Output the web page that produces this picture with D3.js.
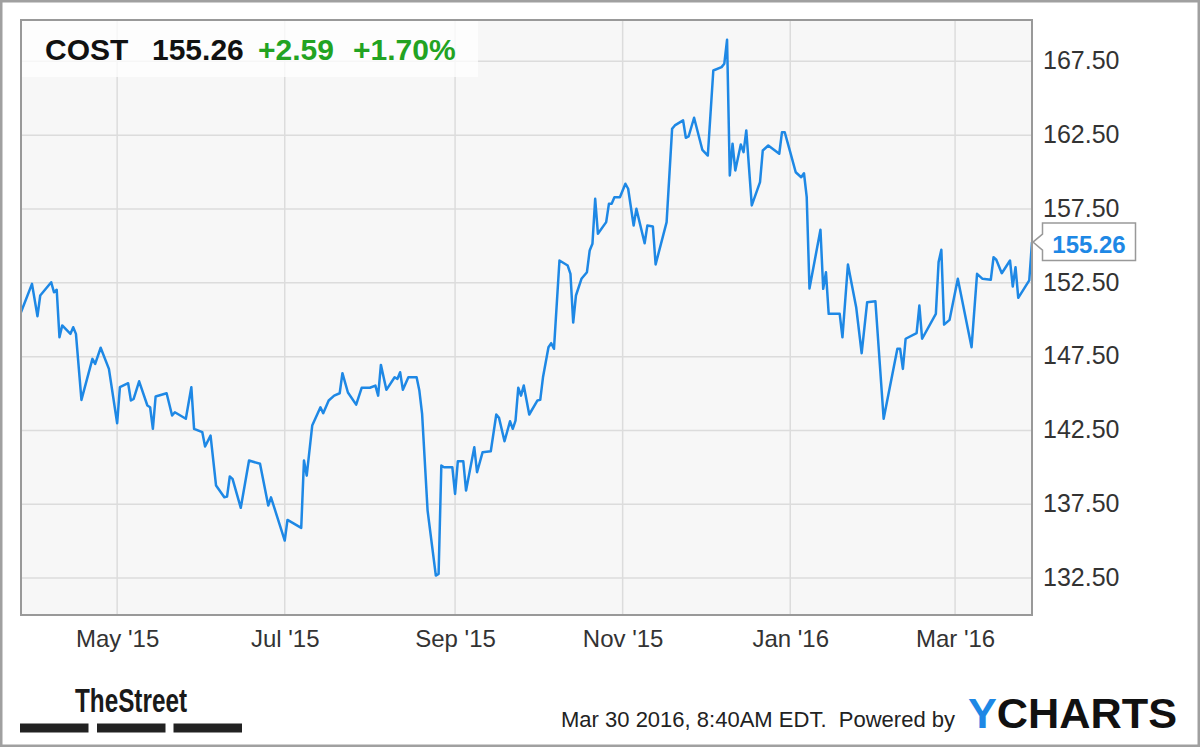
<!DOCTYPE html>
<html>
<head>
<meta charset="utf-8">
<script src="https://cdn.jsdelivr.net/npm/d3@7"></script>
<style>
  html, body { margin: 0; padding: 0; background: #fff; }
  svg { display: block; font-family: "Liberation Sans", Arial, sans-serif; }
</style>
</head>
<body>
<div id="chart"></div>
<script>
// COST daily close
const dates = [
  "2015-03-27","2015-03-31","2015-04-02","2015-04-03","2015-04-07","2015-04-08","2015-04-09","2015-04-10","2015-04-11","2015-04-14","2015-04-15","2015-04-16",
  "2015-04-18","2015-04-22","2015-04-23","2015-04-25","2015-04-28",
  "2015-05-01","2015-05-02","2015-05-05","2015-05-06","2015-05-07","2015-05-09","2015-05-12","2015-05-13","2015-05-14","2015-05-15","2015-05-19","2015-05-21","2015-05-22","2015-05-26","2015-05-28","2015-05-29",
  "2015-06-01","2015-06-02","2015-06-04","2015-06-06","2015-06-09","2015-06-10","2015-06-11","2015-06-12","2015-06-15","2015-06-18","2015-06-22","2015-06-25","2015-06-26",
  "2015-07-01","2015-07-02","2015-07-07","2015-07-08","2015-07-09","2015-07-11","2015-07-14","2015-07-15","2015-07-17","2015-07-19","2015-07-21","2015-07-22","2015-07-24","2015-07-27","2015-07-29",
  "2015-08-01","2015-08-03","2015-08-04","2015-08-05","2015-08-07","2015-08-10","2015-08-11","2015-08-12","2015-08-13","2015-08-15","2015-08-18","2015-08-19","2015-08-20","2015-08-22","2015-08-25","2015-08-26","2015-08-27","2015-08-28","2015-08-31",
  "2015-09-01","2015-09-02","2015-09-04","2015-09-05","2015-09-08","2015-09-09","2015-09-11","2015-09-14","2015-09-16","2015-09-17","2015-09-19","2015-09-21","2015-09-22","2015-09-23","2015-09-24","2015-09-25","2015-09-26","2015-09-28",
  "2015-10-01","2015-10-02","2015-10-03","2015-10-05","2015-10-06","2015-10-07","2015-10-09","2015-10-12","2015-10-13","2015-10-14","2015-10-15","2015-10-17","2015-10-19","2015-10-20","2015-10-21","2015-10-22","2015-10-23","2015-10-26","2015-10-27","2015-10-28","2015-10-29","2015-10-31",
  "2015-11-02","2015-11-03","2015-11-05","2015-11-06","2015-11-09","2015-11-10","2015-11-12","2015-11-13","2015-11-17","2015-11-19","2015-11-20","2015-11-23","2015-11-24","2015-11-25","2015-11-27","2015-11-30",
  "2015-12-02","2015-12-04","2015-12-07","2015-12-08","2015-12-09","2015-12-10","2015-12-11","2015-12-12","2015-12-14","2015-12-15","2015-12-16","2015-12-18","2015-12-21","2015-12-22","2015-12-24","2015-12-28","2015-12-29","2015-12-30",
  "2016-01-01","2016-01-03","2016-01-05","2016-01-06","2016-01-07","2016-01-08","2016-01-12","2016-01-13","2016-01-14","2016-01-15","2016-01-19","2016-01-20","2016-01-22","2016-01-25","2016-01-27","2016-01-29",
  "2016-02-01","2016-02-04","2016-02-09","2016-02-10","2016-02-11","2016-02-12","2016-02-16","2016-02-17","2016-02-18","2016-02-23","2016-02-24","2016-02-25","2016-02-26","2016-02-28",
  "2016-03-02","2016-03-07","2016-03-09","2016-03-11","2016-03-14","2016-03-15","2016-03-16","2016-03-18","2016-03-21","2016-03-22","2016-03-23","2016-03-24","2016-03-28","2016-03-29"
];
const prices = [
  150.51,152.43,150.24,151.64,152.54,151.86,152.03,148.81,149.61,149.04,149.49,149.04,
  144.57,147.35,147.01,148.10,146.67,
  142.99,145.43,145.70,144.53,144.64,145.83,144.19,144.07,142.61,144.80,145.02,143.51,143.73,143.29,145.43,142.61,
  142.38,141.41,142.15,138.77,137.97,138.02,139.38,139.22,137.26,140.46,140.24,137.41,137.97,
  135.04,136.44,135.90,140.46,139.44,142.83,144.07,143.67,144.53,144.86,145.02,146.38,145.07,144.25,145.39,
  145.39,145.54,144.86,146.94,145.25,146.10,145.99,146.44,145.25,146.10,146.10,145.20,143.62,137.07,132.67,132.78,140.12,140.01,140.01,
  138.20,140.41,140.41,138.43,141.36,139.67,141.02,141.09,143.58,143.35,141.77,143.12,142.61,143.17,145.39,144.86,145.54,143.58,
  144.53,144.57,146.10,148.14,148.41,148.03,154.01,153.67,153.11,149.81,151.64,152.77,153.22,154.69,155.14,158.19,155.82,156.61,157.85,157.85,158.30,158.30,
  159.21,158.87,156.38,157.51,155.18,156.38,156.31,153.74,156.61,162.93,163.16,163.50,162.32,162.41,163.68,161.51,
  161.12,166.88,167.11,167.34,168.96,159.77,161.92,160.11,161.87,161.35,162.82,157.74,159.32,161.46,161.80,161.24,162.70,162.70,
  161.35,159.99,159.65,159.92,158.30,152.11,156.09,152.09,153.22,150.40,150.40,148.81,153.74,150.85,147.73,151.19,
  151.25,143.29,148.03,148.03,146.67,148.71,149.09,150.96,148.71,150.40,153.90,154.74,149.67,149.99,
  152.77,148.14,153.11,152.77,152.70,154.23,154.06,153.15,154.01,152.25,153.56,151.48,152.66,155.26
];

const yTicks = [132.5, 137.5, 142.5, 147.5, 152.5, 157.5, 162.5, 167.5];
const xTicks = ["2015-05-01", "2015-07-01", "2015-09-01", "2015-11-01", "2016-01-01", "2016-03-01"];
const xDomain = ["2015-03-27", "2016-03-29"];
const yDomain = [130, 170.3];

const ticker = "COST";
const lastPrice = 155.26;
const change = 2.59;
const changePct = 1.70;
const stamp = "Mar 30 2016, 8:40AM EDT.  Powered by";

const W = 1200, H = 747;
const plot = { left: 21, top: 20, right: 1032, bottom: 615 };
const blue = "#1e88e5";
const green = "#22a322";

const parse = d3.timeParse("%Y-%m-%d");
const data = dates.map((d, i) => ({ date: parse(d), value: prices[i] }));

const x = d3.scaleTime()
  .domain(xDomain.map(parse))
  .range([plot.left, plot.right]);
const y = d3.scaleLinear()
  .domain(yDomain)
  .range([plot.bottom, plot.top]);

const svg = d3.select('#chart')
  .append('svg')
  .attr('width', W)
  .attr('height', H);

svg.append('rect')
  .attr('width', W).attr('height', H)
  .attr('fill', '#fff');

// plot background
svg.append('rect')
  .attr('x', plot.left).attr('y', plot.top)
  .attr('width', plot.right - plot.left)
  .attr('height', plot.bottom - plot.top)
  .attr('fill', '#f7f7f7');

// grid
const grid = svg.append('g').attr('stroke', '#dcdcdc').attr('stroke-width', 1.5);
grid.selectAll('.hgrid')
  .data(yTicks)
  .join('line')
  .attr('x1', plot.left).attr('x2', plot.right)
  .attr('y1', d => y(d)).attr('y2', d => y(d));
grid.selectAll('.vgrid')
  .data(xTicks.map(parse))
  .join('line')
  .attr('x1', d => x(d)).attr('x2', d => x(d))
  .attr('y1', plot.top).attr('y2', plot.bottom);

// price line
svg.append('clipPath').attr('id', 'clip')
  .append('rect')
  .attr('x', plot.left).attr('y', plot.top)
  .attr('width', plot.right - plot.left)
  .attr('height', plot.bottom - plot.top);

svg.append('path')
  .datum(data)
  .attr('clip-path', 'url(#clip)')
  .attr('fill', 'none')
  .attr('stroke', blue)
  .attr('stroke-width', 2.5)
  .attr('stroke-linejoin', 'round')
  .attr('d', d3.line().x(d => x(d.date)).y(d => y(d.value)));

// plot frame
svg.append('rect')
  .attr('x', plot.left).attr('y', plot.top)
  .attr('width', plot.right - plot.left)
  .attr('height', plot.bottom - plot.top)
  .attr('fill', 'none')
  .attr('stroke', '#999')
  .attr('stroke-width', 2);

// axes
const yAxis = svg.append('g')
  .attr('transform', `translate(${plot.right},0)`)
  .call(d3.axisRight(y).tickValues(yTicks).tickSize(0).tickPadding(11).tickFormat(d3.format('.2f')));
yAxis.select('.domain').remove();
yAxis.selectAll('text')
  .attr('font-size', 25)
  .attr('font-family', '"Liberation Sans", Arial, sans-serif')
  .attr('fill', '#333')
  .attr('dy', '0.29em');

const xAxis = svg.append('g')
  .attr('transform', `translate(0,${plot.bottom})`)
  .call(d3.axisBottom(x).tickValues(xTicks.map(parse)).tickSize(0).tickPadding(15).tickFormat(d3.timeFormat("%b '%y")));
xAxis.select('.domain').remove();
xAxis.selectAll('text')
  .attr('font-size', 24)
  .attr('font-family', '"Liberation Sans", Arial, sans-serif')
  .attr('fill', '#333');

// quote header
svg.append('rect')
  .attr('x', plot.left + 1).attr('y', plot.top + 1)
  .attr('width', 456).attr('height', 56)
  .attr('fill', '#fff')
  .attr('opacity', 0.75);

const header = svg.append('text')
  .attr('y', 60)
  .attr('font-size', 30)
  .attr('font-weight', 'bold');
header.append('tspan').attr('x', 45).attr('fill', '#111').text(ticker);
header.append('tspan').attr('x', 152).attr('fill', '#111').text(lastPrice.toFixed(2));
header.append('tspan').attr('x', 258).attr('fill', green).text('+' + change.toFixed(2));
header.append('tspan').attr('x', 353).attr('fill', green).text('+' + changePct.toFixed(2) + '%');

// last value callout
const last = data[data.length - 1];
const tipX = x(last.date) + 1, tipY = y(last.value);
const bx = tipX + 9.5, bw = 93, bt = tipY - 19, bh = 37.5;
svg.append('path')
  .attr('d', `M${bx},${bt} H${bx + bw} V${bt + bh} H${bx} V${tipY + 8} L${tipX},${tipY} L${bx},${tipY - 8} Z`)
  .attr('fill', '#fff')
  .attr('stroke', '#999')
  .attr('stroke-width', 1.5);
svg.append('text')
  .attr('x', bx + bw / 2)
  .attr('y', tipY + 10.5)
  .attr('text-anchor', 'middle')
  .attr('font-size', 24)
  .attr('font-weight', 'bold')
  .attr('fill', blue)
  .text(last.value.toFixed(2));

// footer: TheStreet logo
svg.append('text')
  .attr('x', 75).attr('y', 711.5)
  .attr('font-family', '"Liberation Sans Narrow", "Arial Narrow", "Liberation Sans", sans-serif')
  .attr('font-size', 34)
  .attr('font-weight', 'bold')
  .attr('fill', '#1a1a1a')
  .attr('textLength', 112)
  .attr('lengthAdjust', 'spacingAndGlyphs')
  .text('TheStreet');
svg.append('g')
  .selectAll('rect')
  .data([20, 97, 173.5])
  .join('rect')
  .attr('x', d => d).attr('y', 723.5)
  .attr('width', 68.5).attr('height', 9)
  .attr('fill', '#222');

// footer: timestamp and YCharts
svg.append('text')
  .attr('x', 561).attr('y', 727)
  .attr('font-size', 22.5)
  .attr('fill', '#222')
  .attr('textLength', 394)
  .attr('lengthAdjust', 'spacingAndGlyphs')
  .style('white-space', 'pre')
  .text(stamp);

const yc = svg.append('text')
  .attr('x', 968).attr('y', 728)
  .attr('font-size', 43)
  .attr('font-weight', 'bold')
  .attr('textLength', 209)
  .attr('lengthAdjust', 'spacingAndGlyphs');
yc.append('tspan').attr('fill', blue).text('Y');
yc.append('tspan').attr('fill', '#111').text('CHARTS');

// outer frame
svg.append('rect')
  .attr('x', 1.25).attr('y', 1.25)
  .attr('width', W - 2.5).attr('height', H - 2.5)
  .attr('fill', 'none')
  .attr('stroke', '#a0a0a0')
  .attr('stroke-width', 2.5);
</script>
</body>
</html>
